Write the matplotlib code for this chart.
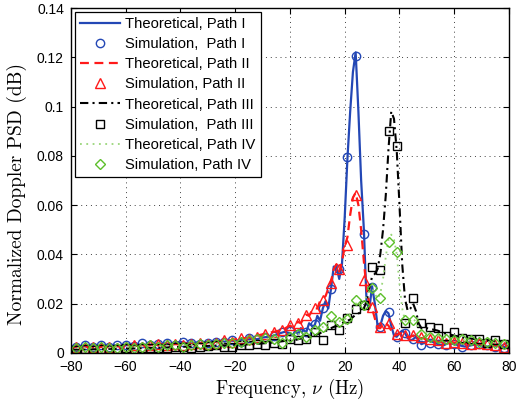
import matplotlib
matplotlib.use("Agg")
import matplotlib.pyplot as plt

# grids (Hz)
x_th = list(range(-80, 0, 2)) + list(range(0, 51)) + list(range(52, 81, 2))
x_sim = list(range(-78, 79, 3))

# theoretical curves
th_1 = [0.0025, 0.003, 0.0025, 0.0028, 0.003, 0.0025, 0.003, 0.0028, 0.003, 0.0025,
        0.003, 0.0035, 0.003, 0.0035, 0.003, 0.0035, 0.0032, 0.0038, 0.0035, 0.004,
        0.0045, 0.004, 0.0038, 0.0042, 0.004, 0.0045, 0.0042, 0.0048, 0.0045, 0.005,
        0.0048, 0.0052, 0.005, 0.0058, 0.0055, 0.0062, 0.0065, 0.007, 0.0078, 0.0085,
        0.008, 0.007, 0.009, 0.0075, 0.01, 0.009, 0.0085, 0.012, 0.011, 0.011,
        0.015, 0.013, 0.018, 0.021, 0.018, 0.026, 0.035, 0.035, 0.030, 0.036,
        0.055, 0.079, 0.098, 0.114, 0.122, 0.098, 0.070, 0.050, 0.020, 0.018,
        0.027, 0.020, 0.011, 0.011, 0.015, 0.017, 0.016, 0.011, 0.007, 0.0065,
        0.008, 0.009, 0.008, 0.006, 0.005, 0.0055, 0.0065, 0.005, 0.0035, 0.004, 0.005,
        0.0045, 0.0035, 0.003, 0.004, 0.0035, 0.003, 0.0025, 0.003, 0.0035, 0.003,
        0.0025, 0.003, 0.0028, 0.0025, 0.0022]
th_2 = [0.0022, 0.0025, 0.0022, 0.0025, 0.0022, 0.0025, 0.0022, 0.0025, 0.0025, 0.0028,
        0.0025, 0.003, 0.0028, 0.003, 0.003, 0.0032, 0.003, 0.0035, 0.0032, 0.0035,
        0.0035, 0.0038, 0.0035, 0.004, 0.0038, 0.0042, 0.0045, 0.0045, 0.005, 0.005,
        0.0055, 0.0058, 0.006, 0.0065, 0.007, 0.0075, 0.008, 0.0085, 0.009, 0.0098,
        0.011, 0.0105, 0.012, 0.0125, 0.012, 0.014, 0.0155, 0.015, 0.017, 0.018,
        0.018, 0.021, 0.022, 0.023, 0.026, 0.029, 0.034, 0.036, 0.033, 0.037,
        0.043, 0.047, 0.056, 0.063, 0.065, 0.060, 0.050, 0.037, 0.026, 0.020,
        0.018, 0.014, 0.010, 0.010, 0.012, 0.012, 0.011, 0.009, 0.007, 0.0072,
        0.008, 0.0078, 0.007, 0.0062, 0.0065, 0.007, 0.0062, 0.0055, 0.006, 0.0058, 0.0055,
        0.005, 0.0045, 0.0042, 0.004, 0.0042, 0.004, 0.0038, 0.0036, 0.0038, 0.0035,
        0.0033, 0.0032, 0.003, 0.0028, 0.0027]
th_3 = [0.0012, 0.0013, 0.0013, 0.0014, 0.0014, 0.0015, 0.0015, 0.0016, 0.0016, 0.0017,
        0.0017, 0.0018, 0.0018, 0.0019, 0.002, 0.002, 0.0021, 0.0022, 0.0022, 0.0023,
        0.0024, 0.0025, 0.0025, 0.0026, 0.0027, 0.0028, 0.0029, 0.003, 0.003, 0.0031,
        0.0032, 0.0033, 0.0034, 0.0035, 0.0036, 0.0038, 0.004, 0.0042, 0.0045, 0.0048,
        0.005, 0.005, 0.0052, 0.0055, 0.0058, 0.006, 0.0062, 0.0065, 0.0068, 0.007,
        0.0075, 0.008, 0.0082, 0.0088, 0.0095, 0.010, 0.0105, 0.011, 0.0115, 0.012,
        0.0125, 0.013, 0.0135, 0.0145, 0.0155, 0.016, 0.0165, 0.018, 0.021, 0.026,
        0.031, 0.032, 0.034, 0.040, 0.050, 0.064, 0.083, 0.098, 0.095, 0.082,
        0.060, 0.036, 0.022, 0.017, 0.018, 0.020, 0.017, 0.012, 0.010, 0.0095, 0.010,
        0.0095, 0.009, 0.008, 0.0075, 0.007, 0.0065, 0.006, 0.0058, 0.0055, 0.0052,
        0.005, 0.0048, 0.0045, 0.0042, 0.004]
th_4 = [0.0018, 0.0019, 0.002, 0.002, 0.0021, 0.0021, 0.0022, 0.0022, 0.0023, 0.0023,
        0.0024, 0.0025, 0.0025, 0.0026, 0.0027, 0.0028, 0.0028, 0.0029, 0.003, 0.003,
        0.0031, 0.0032, 0.0033, 0.0034, 0.0035, 0.0036, 0.0037, 0.0038, 0.004, 0.0041,
        0.0043, 0.0045, 0.0047, 0.0049, 0.0052, 0.0054, 0.0057, 0.006, 0.0062, 0.0065,
        0.0068, 0.007, 0.0072, 0.0075, 0.0078, 0.008, 0.0083, 0.0086, 0.009, 0.0093,
        0.0097, 0.010, 0.0105, 0.011, 0.012, 0.0125, 0.013, 0.0128, 0.0128, 0.013,
        0.0135, 0.0145, 0.016, 0.018, 0.020, 0.020, 0.020, 0.021, 0.023, 0.025,
        0.026, 0.024, 0.022, 0.024, 0.030, 0.039, 0.046, 0.048, 0.046, 0.040,
        0.028, 0.018, 0.013, 0.012, 0.013, 0.014, 0.0125, 0.010, 0.0085, 0.008, 0.0082,
        0.0075, 0.007, 0.0065, 0.006, 0.0058, 0.0055, 0.0052, 0.005, 0.0048, 0.0046,
        0.0044, 0.0042, 0.004, 0.0038, 0.0036]

# simulated points
sim_1 = [0.0025, 0.003, 0.0025, 0.003, 0.0025, 0.003, 0.003, 0.0028, 0.004, 0.003,
         0.0035, 0.004, 0.003, 0.0045,
         0.004, 0.0035, 0.004, 0.0045, 0.0045, 0.005, 0.0045, 0.006, 0.0055, 0.0065,
         0.007, 0.0085,
         0.009, 0.0075, 0.0085, 0.0115, 0.018, 0.0258, 0.034,
         0.0793, 0.1207, 0.0484, 0.0267, 0.0105, 0.0166, 0.0065, 0.008, 0.0055, 0.003,
         0.004, 0.0035, 0.003, 0.0035, 0.0025, 0.003, 0.0035, 0.003, 0.0025, 0.002]
sim_2 = [0.0025, 0.002, 0.0025, 0.002, 0.0025, 0.002, 0.0025, 0.003, 0.0025, 0.003,
         0.0035, 0.003, 0.0035, 0.003,
         0.0035, 0.004, 0.0035, 0.004, 0.005, 0.0045, 0.006, 0.0055, 0.0065, 0.0075,
         0.0085, 0.0094,
         0.0112, 0.0121, 0.0153, 0.018, 0.0213, 0.0284, 0.034,
         0.0437, 0.064, 0.0294, 0.0186, 0.0105, 0.0119, 0.0078, 0.0073, 0.0071, 0.0065,
         0.0055, 0.005, 0.004, 0.0045, 0.004, 0.0035, 0.004, 0.0035, 0.003, 0.0025]
sim_3 = [0.0012, 0.0015, 0.0012, 0.0015, 0.0012, 0.0015, 0.0018, 0.0015, 0.0018, 0.002,
         0.0018, 0.002, 0.0022, 0.0025,
         0.002, 0.0025, 0.0028, 0.003, 0.0025, 0.0024, 0.003, 0.003, 0.0035, 0.003,
         0.004, 0.0035,
         0.0058, 0.0054, 0.0058, 0.0085, 0.005, 0.0112, 0.0092,
         0.014, 0.0176, 0.0193, 0.0349, 0.0338, 0.090, 0.084, 0.012, 0.0224, 0.0119,
         0.0105, 0.010, 0.007, 0.0085, 0.006, 0.0055, 0.0056, 0.004, 0.0054, 0.0035]
sim_4 = [0.002, 0.0025, 0.002, 0.0025, 0.002, 0.002, 0.0025, 0.002, 0.0025, 0.003,
         0.0025, 0.003, 0.003, 0.0025,
         0.003, 0.0035, 0.003, 0.0035, 0.004, 0.004, 0.0045, 0.005, 0.0055, 0.006,
         0.0055, 0.004,
         0.0065, 0.0075, 0.0065, 0.0092, 0.0103, 0.0148, 0.0126,
         0.0139, 0.0213, 0.0193, 0.0265, 0.0222, 0.0448, 0.041, 0.0132, 0.0135, 0.0078,
         0.0065, 0.006, 0.0055, 0.005, 0.0055, 0.005, 0.0045, 0.0045, 0.004, 0.0035]

for s in (th_1, th_2, th_3, th_4):
    assert len(s) == len(x_th), len(s)
for s in (sim_1, sim_2, sim_3, sim_4):
    assert len(s) == len(x_sim), len(s)

blue = "#2347b5"
red = "#ff1a1a"
green = "#5cbf2a"
lgreen = "#9ad67a"

plt.rcParams["mathtext.fontset"] = "cm"

fig = plt.figure(figsize=(5.21, 4.0), dpi=100)
ax = fig.add_axes([0.136, 0.118, 0.841, 0.862])

ax.plot(x_th, th_1, "-", color=blue, lw=1.6, label="Theoretical, Path I")
ax.plot(x_sim, sim_1, "o", mfc="none", mec=blue, ms=6, mew=1.0, label="Simulation,  Path I")
ax.plot(x_th, th_2, color=red, lw=1.6, dashes=(4, 2.5), label="Theoretical, Path II")
ax.plot(x_sim, sim_2, "^", mfc="none", mec=red, ms=6.5, mew=1.0, label="Simulation, Path II")
ax.plot(x_th, th_3, color="k", lw=1.5, dashes=(4, 2, 1, 2), label="Theoretical, Path III")
ax.plot(x_sim, sim_3, "s", mfc="none", mec="k", ms=6, mew=1.0, label="Simulation,  Path III")
ax.plot(x_th, th_4, color=lgreen, lw=1.3, dashes=(1, 2.5), label="Theoretical, Path IV")
ax.plot(x_sim, sim_4, "D", mfc="none", mec=green, ms=5.5, mew=1.0, label="Simulation, Path IV")

ax.set_xlim(-80, 80)
ax.set_ylim(0, 0.14)
ax.set_xticks(range(-80, 81, 20))
ax.set_yticks([0, 0.02, 0.04, 0.06, 0.08, 0.1, 0.12, 0.14])
ax.set_yticklabels(["0", "0.02", "0.04", "0.06", "0.08", "0.1", "0.12", "0.14"])
ax.tick_params(direction="in", top=True, right=True, labelsize=10, length=4, width=0.8)
ax.tick_params(axis="x", pad=5)
ax.tick_params(axis="y", pad=5)
for lab in ax.get_xticklabels() + ax.get_yticklabels():
    lab.set_family(["Liberation Sans", "DejaVu Sans"])
ax.grid(True, ls=(0, (1, 4)), color="0.25", lw=0.7)
for sp in ax.spines.values():
    sp.set_linewidth(1.0)

ax.set_xlabel(r"Frequency, $\nu$ (Hz)", family="cmr10", fontsize=13.5, labelpad=2)
ax.set_ylabel("Normalized Doppler PSD (dB)", family="cmr10", fontsize=14)
ax.yaxis.set_label_coords(-0.10, 0.46)

leg = ax.legend(loc="upper left", frameon=True, fancybox=False,
                edgecolor="k", framealpha=1, handlelength=2.75, handletextpad=0.35,
                labelspacing=0.42, borderaxespad=0.25, borderpad=0.35,
                prop={"family": ["Liberation Sans", "DejaVu Sans"], "size": 10.6})
leg.get_frame().set_linewidth(0.9)

fig.savefig("out.png", dpi=100)
